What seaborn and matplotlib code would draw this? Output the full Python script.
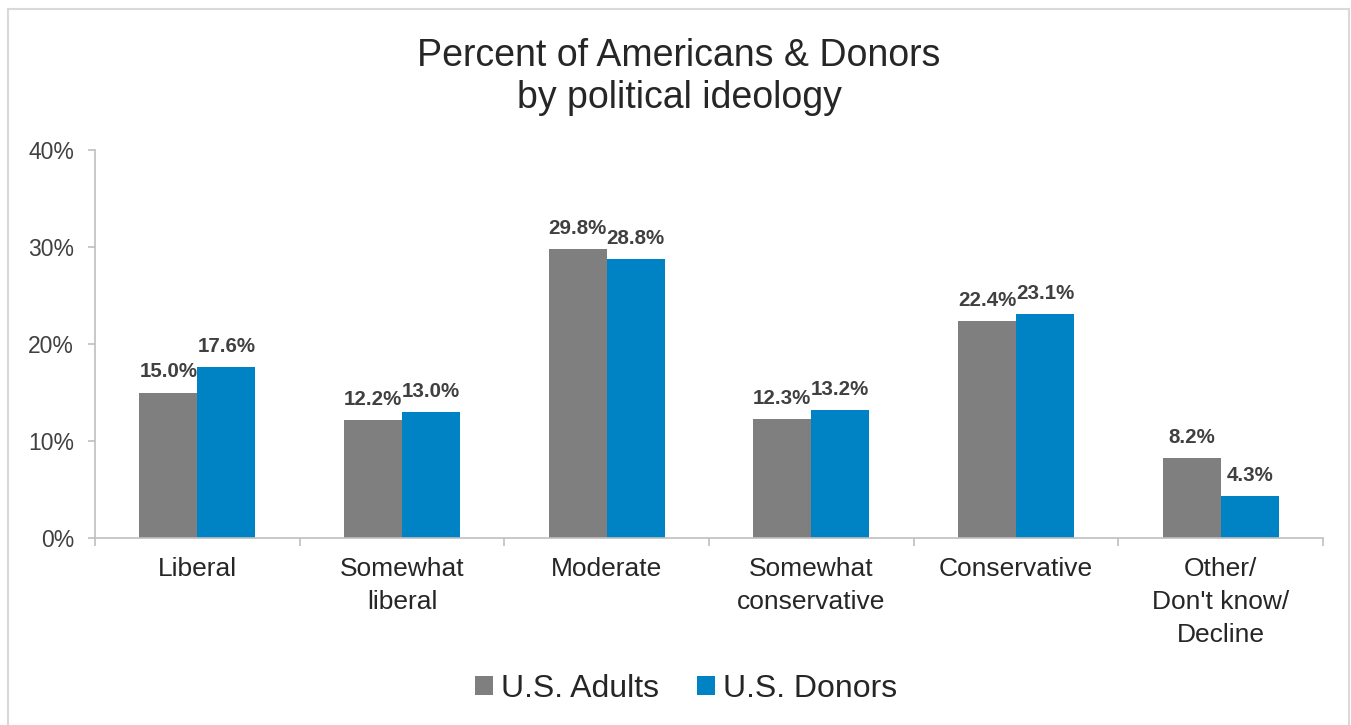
import matplotlib
matplotlib.use("Agg")
import matplotlib.pyplot as plt
import matplotlib.patches as mpatches
from matplotlib.ticker import FuncFormatter, FixedLocator
import seaborn as sns
import pandas as pd

categories = ["Liberal", "Somewhat\nliberal", "Moderate", "Somewhat\nconservative",
              "Conservative", "Other/\nDon't know/\nDecline"]
series_names = ["U.S. Adults", "U.S. Donors"]
adults = [15.0, 12.2, 29.8, 12.3, 22.4, 8.2]
donors = [17.6, 13.0, 28.8, 13.2, 23.1, 4.3]
yticks = [0, 10, 20, 30, 40]
title = "Percent of Americans & Donors\nby political ideology"

colors = {"U.S. Adults": "#7F7F7F", "U.S. Donors": "#0083C4"}

df = pd.DataFrame({
    "category": categories * 2,
    "series": [series_names[0]] * len(categories) + [series_names[1]] * len(categories),
    "value": adults + donors,
})

sns.set_theme(style="white")
plt.rcParams["font.family"] = ["Liberation Sans", "DejaVu Sans"]

fig = plt.figure(figsize=(13.51, 7.25), dpi=100)
ax = fig.add_axes([95 / 1351, 1 - 538 / 725, (1323 - 95) / 1351, (538 - 150) / 725])

sns.barplot(data=df, x="category", y="value", hue="series", order=categories,
            hue_order=series_names, palette=colors, width=0.567, gap=0,
            linewidth=0, saturation=1, ax=ax, legend=False)

ax.set_ylim(0, 40)
ax.set_xlim(-0.5, len(categories) - 0.5)
ax.yaxis.set_major_locator(FixedLocator(yticks))
ax.yaxis.set_major_formatter(FuncFormatter(lambda v, p: f"{v:.0f}%"))
ax.set_xlabel("")
ax.set_ylabel("")

for s in ["top", "right"]:
    ax.spines[s].set_visible(False)
for s in ["left", "bottom"]:
    ax.spines[s].set_color("#BFBFBF")
    ax.spines[s].set_linewidth(1.2)

ax.tick_params(axis="y", which="major", direction="out", length=5, width=1.2,
               color="#BFBFBF", labelsize=16.5, labelcolor="#404040", pad=10, left=True)
ax.tick_params(axis="x", which="major", length=0, labelsize=19, labelcolor="#262626", pad=14)
ax.set_xticks(range(len(categories)))
ax.set_xticklabels(categories, linespacing=1.45)
ax.set_xticks([i - 0.5 for i in range(len(categories) + 1)], minor=True)
ax.tick_params(axis="x", which="minor", direction="out", length=6, width=1.2,
               color="#BFBFBF", bottom=True)

for cont in ax.containers:
    ax.bar_label(cont, fmt="%.1f%%", padding=8, fontsize=14.8, fontweight="bold",
                 color="#404040")

fig.text(679 / 1351, 1 - 77 / 725, title, ha="center", va="center", fontsize=27,
         color="#262626", linespacing=1.24)

handles = [mpatches.Patch(facecolor=colors[n], edgecolor="none", label=n) for n in series_names]
fig.legend(handles=handles, loc="center", bbox_to_anchor=(686 / 1351, 1 - 689 / 725),
           ncol=2, frameon=False, fontsize=23, handlelength=0.55, handleheight=0.55,
           handletextpad=0.25, columnspacing=1.2, labelcolor="#262626")

border = mpatches.Rectangle((8 / 1351, -0.02), (1349 - 8) / 1351, 0.02 + 1 - 9 / 725,
                            transform=fig.transFigure, fill=False, edgecolor="#D9D9D9",
                            linewidth=1.5)
fig.patches.append(border)

fig.savefig("out.png", dpi=100, facecolor="white")
